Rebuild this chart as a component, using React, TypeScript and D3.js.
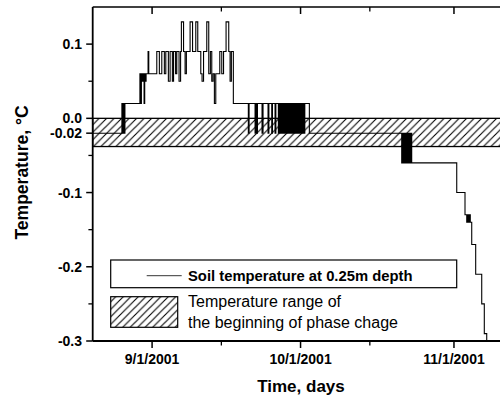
import React from "react";
import * as d3 from "d3";

// Soil temperature record at 0.25 m depth: [days after 9/1/2001, °C]
const soilTemp: [number, number][] = [
  [-12.0, -0.02],
  [-6.1, 0.02], [-6.0, -0.02], [-5.9, 0.02], [-5.8, -0.02], [-5.7, 0.02], [-5.6, -0.02], [-5.49, 0.02],
  [-2.46, 0.06], [-2.32, 0.02], [-2.16, 0.06], [-1.96, 0.05], [-1.76, 0.06], [-1.62, 0.02], [-1.49, 0.06],
  [-1.35, 0.05], [-1.21, 0.06],
  [-0.81, 0.09], [-0.67, 0.06],
  [0.95, 0.09], [1.47, 0.06], [1.96, 0.09], [2.48, 0.06], [2.77, 0.09], [3.29, 0.05], [3.64, 0.09],
  [4.1, 0.05], [4.34, 0.09], [4.75, 0.06], [4.99, 0.09], [5.45, 0.05], [5.76, 0.09], [5.92, 0.13],
  [6.36, 0.09], [6.67, 0.06], [6.93, 0.09], [7.68, 0.13], [8.18, 0.09], [8.83, 0.13], [9.23, 0.09],
  [9.84, 0.06], [10.1, 0.05], [10.4, 0.09], [11.05, 0.13], [11.45, 0.06], [11.78, 0.09], [12.06, 0.05],
  [12.32, 0.06], [12.59, 0.02], [12.87, 0.06], [13.68, 0.09], [14.08, 0.06], [14.44, 0.09], [14.95, 0.13],
  [15.49, 0.09], [15.76, 0.05], [16.02, 0.09], [16.42, 0.02],
  [19.45, -0.02], [19.6, 0.02],
  [20.81, -0.02], [20.97, 0.02], [21.15, -0.02], [21.29, 0.02], [22.22, -0.02], [22.42, 0.02],
  [23.43, -0.02], [23.6, 0.02], [24.18, -0.02], [24.32, 0.02], [24.85, -0.02], [25.01, 0.02],
  [25.52, -0.02], [25.66, 0.02], [25.86, -0.02], [26.02, 0.02], [26.2, -0.02], [26.34, 0.02],
  [26.46, -0.02], [26.58, 0.02], [26.7, -0.02], [26.83, 0.02], [26.95, -0.02], [27.08, 0.02],
  [27.2, -0.02], [27.33, 0.02], [27.46, -0.02], [27.58, 0.02], [27.71, -0.02], [27.83, 0.02],
  [27.96, -0.02], [28.09, 0.02], [28.21, -0.02], [28.34, 0.02], [28.47, -0.02], [28.59, 0.02],
  [28.72, -0.02], [28.85, 0.02], [28.97, -0.02], [29.1, 0.02], [29.22, -0.02], [29.35, 0.02],
  [29.48, -0.02], [29.6, 0.02], [29.73, -0.02], [29.86, 0.02], [29.98, -0.02], [30.11, 0.02],
  [30.24, -0.02], [30.36, 0.02], [30.49, -0.02], [30.62, 0.02], [30.74, -0.02], [30.86, 0.02],
  [31.78, -0.02],
  [50.44, -0.06], [50.62, -0.02], [50.8, -0.06], [50.98, -0.02], [51.15, -0.06], [51.33, -0.02],
  [51.51, -0.06], [51.69, -0.02], [51.86, -0.06], [52.04, -0.02], [52.22, -0.06], [52.38, -0.02],
  [52.46, -0.06],
  [61.56, -0.1],
  [63.23, -0.13], [63.58, -0.14], [63.76, -0.13], [63.94, -0.14], [64.12, -0.13], [64.3, -0.14],
  [64.59, -0.17], [65.39, -0.21], [66.61, -0.25], [67.13, -0.29], [67.62, -0.34], [74.0, -0.34],
];

// Temperature range of the beginning of phase change, °C
const phaseBand = [0.0, -0.038];

const yMajorTicks = [0.1, 0.0, -0.02, -0.1, -0.2, -0.3];
const yMajorLabels = ["0.1", "0.0", "-0.02", "-0.1", "-0.2", "-0.3"];
const yMinorTicks = [0.05, -0.05, -0.15, -0.25];

const xMajorTicks = ["2001-09-01", "2001-10-01", "2001-11-01"];
const xMajorLabels = ["9/1/2001", "10/1/2001", "11/1/2001"];
const xMinorTicks = ["2001-09-15", "2001-10-15"];

const legendLine = "Soil temperature at 0.25m depth";
const legendBand = ["Temperature range of", "the beginning of phase chage"];

const W = 500;
const H = 400;
const left = 92.7;
const right = 518.3;
const top = 7;
const bottom = 341;
const FONT = "'Liberation Sans', Arial, Helvetica, sans-serif";

const DAY = 86400000;
const origin = Date.UTC(2001, 8, 1);
const parseDay = (s: string) => new Date(s + "T00:00:00Z");

export default function App() {
  const x = d3
    .scaleUtc()
    .domain([new Date(Date.UTC(2001, 7, 20)), new Date(Date.UTC(2001, 10, 14))])
    .range([left, right]);
  const y = d3.scaleLinear().domain([-0.3, 0.15]).range([bottom, top]);

  const line = d3
    .line<[number, number]>()
    .x((d) => x(new Date(origin + d[0] * DAY)))
    .y((d) => y(d[1]))
    .curve(d3.curveStepAfter);

  const bandTop = y(phaseBand[0]);
  const bandBottom = y(phaseBand[1]);
  const hs = 7.5;

  return (
    <svg
      width={W}
      height={H}
      style={{ position: "absolute", left: 0, top: 0, display: "block" }}
      fontFamily={FONT}
    >
      <defs>
        <pattern id="hatch" patternUnits="userSpaceOnUse" width={hs} height={hs}>
          <path
            d={`M0,${hs} L${hs},0 M${-hs / 2},${hs / 2} L${hs / 2},${-hs / 2} M${hs / 2},${hs * 1.5} L${hs * 1.5},${hs / 2}`}
            stroke="#000"
            strokeWidth={1.1}
          />
        </pattern>
        <clipPath id="plot">
          <rect x={left} y={top} width={right - left} height={bottom - top} />
        </clipPath>
      </defs>
      <rect x={0} y={0} width={W} height={H} fill="#fff" />

      {/* phase-change band */}
      <rect
        x={left}
        y={bandTop}
        width={right - left}
        height={bandBottom - bandTop}
        fill="url(#hatch)"
        stroke="#000"
        strokeWidth={1.3}
      />

      {/* soil temperature series */}
      <g clipPath="url(#plot)">
        <path d={line(soilTemp) || ""} fill="none" stroke="#000" strokeWidth={1.1} />
      </g>

      {/* frame */}
      <line x1={left} x2={left} y1={top} y2={bottom} stroke="#000" strokeWidth={1.8} />
      <line x1={left} x2={right} y1={top} y2={top} stroke="#000" strokeWidth={1.6} />
      <line x1={left} x2={right} y1={bottom} y2={bottom} stroke="#000" strokeWidth={1.8} />

      {/* y axis ticks */}
      {yMajorTicks.map((v, i) => (
        <g key={"ym" + i}>
          <line x1={left - 6.5} x2={left} y1={y(v)} y2={y(v)} stroke="#000" strokeWidth={1.5} />
          <text
            x={82}
            y={y(v)}
            dy="0.36em"
            textAnchor="end"
            fontSize={14}
            fontWeight="bold"
          >
            {yMajorLabels[i]}
          </text>
        </g>
      ))}
      {yMinorTicks.map((v, i) => (
        <line key={"yn" + i} x1={left - 4.3} x2={left} y1={y(v)} y2={y(v)} stroke="#000" strokeWidth={1.3} />
      ))}

      {/* x axis ticks */}
      {xMajorTicks.map((s, i) => {
        const px = x(parseDay(s));
        return (
          <g key={"xm" + i}>
            <line x1={px} x2={px} y1={bottom} y2={bottom + 7} stroke="#000" strokeWidth={1.5} />
            <line x1={px} x2={px} y1={top} y2={top + 7} stroke="#000" strokeWidth={1.5} />
            <text x={px} y={364} textAnchor="middle" fontSize={14} fontWeight="bold">
              {xMajorLabels[i]}
            </text>
          </g>
        );
      })}
      {xMinorTicks.map((s, i) => {
        const px = x(parseDay(s));
        return (
          <g key={"xn" + i}>
            <line x1={px} x2={px} y1={bottom} y2={bottom + 4.5} stroke="#000" strokeWidth={1.3} />
            <line x1={px} x2={px} y1={top} y2={top + 4.5} stroke="#000" strokeWidth={1.3} />
          </g>
        );
      })}

      {/* axis titles */}
      <text x={301} y={392} textAnchor="middle" fontSize={17} fontWeight="bold">
        Time, days
      </text>
      <text
        transform={`translate(28,172.5) rotate(-90)`}
        textAnchor="middle"
        fontSize={17.5}
        fontWeight="bold"
      >
        Temperature, °C
      </text>

      {/* legend */}
      <rect x={110.7} y={260} width={346} height={27.7} fill="#fff" stroke="#000" strokeWidth={1.2} />
      <line x1={146.7} x2={181.7} y1={275.7} y2={275.7} stroke="#000" strokeWidth={0.8} />
      <text x={188} y={281} fontSize={14.8} fontWeight="bold">
        {legendLine}
      </text>
      <rect x={110.7} y={296.7} width={67} height={30.6} fill="url(#hatch)" stroke="#000" strokeWidth={1.2} />
      <text x={188} y={307.3} fontSize={16}>
        {legendBand[0]}
      </text>
      <text x={188} y={327.7} fontSize={16}>
        {legendBand[1]}
      </text>
    </svg>
  );
}
